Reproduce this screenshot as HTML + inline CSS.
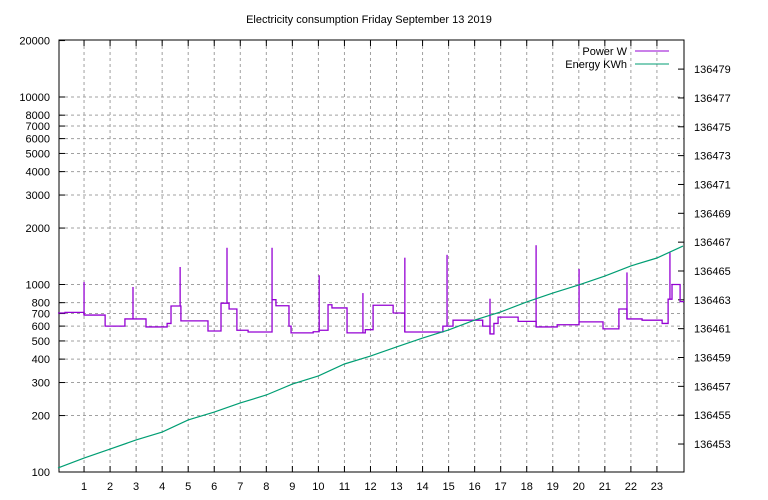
<!DOCTYPE html>
<html><head><meta charset="utf-8"><style>
html,body{margin:0;padding:0;background:#fff;width:768px;height:500px;overflow:hidden}
svg{font-family:"Liberation Sans",sans-serif;font-size:11px}
</style></head><body>
<svg id="c" width="768" height="500" xmlns="http://www.w3.org/2000/svg"></svg>
<script>
const powerHours=[0,0.27,1.0,1.81,2.57,3.38,4.19,4.34,4.72,5.76,6.26,6.57,6.87,7.30,8.22,8.37,8.87,8.95,9.80,10.03,10.37,10.52,11.10,11.33,11.80,12.10,12.87,13.32,14.78,15.17,16.31,16.59,16.74,16.90,17.67,18.36,19.17,20.01,20.93,21.54,21.85,22.43,23.20,23.43,23.58,23.89];
const powerWatts=[705,710,687,600,655,594,620,768,640,565,795,740,570,558,830,770,600,552,560,570,780,750,552,552,574,775,705,558,600,645,600,545,620,670,636,594,610,632,580,740,655,645,620,835,1000,810];
const spikeHours=[1.0,2.88,4.69,6.49,8.22,10.03,11.71,13.32,14.94,16.59,18.36,20.01,21.85,23.50];
const spikeWatts=[1030,970,1240,1570,1570,1120,900,1390,1440,840,1620,1210,1160,1480];
const energyHours=[0,1,2,3,4,5,6,7,8,9,10,11,12,13,14,15,16,17,18,19,20,21,22,23,24];
const energyKWh=[136451.34,136452.03,136452.65,136453.28,136453.83,136454.67,136455.22,136455.85,136456.40,136457.16,136457.72,136458.55,136459.10,136459.73,136460.35,136460.91,136461.60,136462.16,136462.85,136463.47,136464.03,136464.65,136465.35,136465.90,136466.73];
const xTicks=[1,2,3,4,5,6,7,8,9,10,11,12,13,14,15,16,17,18,19,20,21,22,23];
const yTicks=[100,200,300,400,500,600,700,800,1000,2000,3000,4000,5000,6000,7000,8000,10000,20000];
const y2Ticks=[136453,136455,136457,136459,136461,136463,136465,136467,136469,136471,136473,136475,136477,136479];
const L=59,R=684,T=40,B=472;
const x=h=>58+h*26.04;
const y=v=>472-187.5*Math.log10(v/100);
const y2=v=>472-(v-136451.06)*14.42;
const svg=document.getElementById('c');const NS='http://www.w3.org/2000/svg';
function mk(t,a,txt){const e=document.createElementNS(NS,t);for(const k in a)e.setAttribute(k,a[k]);if(txt!=null)e.textContent=txt;svg.appendChild(e);return e;}
let e=mk('text',{x:369,y:23,'text-anchor':'middle'},'Electricity consumption Friday September 13 2019');


xTicks.forEach(h=>{const X=x(h);
 let g=mk('line',{x1:X,x2:X,y1:T,y2:B,stroke:'#a0a0a0','stroke-dasharray':'3,3'});
 
 
 mk('line',{x1:X,x2:X,y1:B,y2:B-6,stroke:'#000'});mk('line',{x1:X,x2:X,y1:T,y2:T+6,stroke:'#000'});
 let t=mk('text',{x:X,y:490,'text-anchor':'middle'},h);
 
 });
yTicks.forEach(v=>{const Y=y(v);
 if(v!==100&&v!==20000){let g=mk('line',{x1:L,x2:R,y1:Y,y2:Y,stroke:'#a0a0a0','stroke-dasharray':'3,3'});
 
 }
 mk('line',{x1:L,x2:L+6,y1:Y,y2:Y,stroke:'#000'});
 let t=mk('text',{x:50,y:Y+4,'text-anchor':'end'},v);
 
 });
y2Ticks.forEach(v=>{const Y=y2(v);
 mk('line',{x1:R-6,x2:R,y1:Y,y2:Y,stroke:'#000'});
 let t=mk('text',{x:694,y:Y+4},v);
 
 });
e=mk('rect',{x:L,y:T,width:R-L,height:B-T,fill:'none',stroke:'#000'});


let d='';powerHours.forEach((h,i)=>{const X=x(h),Y=y(powerWatts[i]);d+=(i?`H${X}V${Y}`:`M${X} ${Y}`);});d+=`H${R}`;
e=mk('path',{d,fill:'none',stroke:'#9400d3','stroke-width':1.3});


spikeHours.forEach((h,i)=>{let k=0;for(let j=0;j<powerHours.length;j++)if(powerHours[j]<=h)k=j;
 let s=mk('line',{x1:x(h),x2:x(h),y1:y(powerWatts[k]),y2:y(spikeWatts[i]),stroke:'#9400d3','stroke-width':1.3});
 
 });
e=mk('polyline',{points:energyHours.map((h,i)=>x(h)+','+y2(energyKWh[i])).join(' '),fill:'none',stroke:'#009e73','stroke-width':1.2});


e=mk('text',{x:627,y:55,'text-anchor':'end'},'Power W');


e=mk('line',{x1:635,x2:669,y1:51,y2:51,stroke:'#9400d3'});


e=mk('text',{x:627,y:68,'text-anchor':'end'},'Energy KWh');


e=mk('line',{x1:635,x2:669,y1:64,y2:64,stroke:'#009e73'});


</script>
</body></html>
